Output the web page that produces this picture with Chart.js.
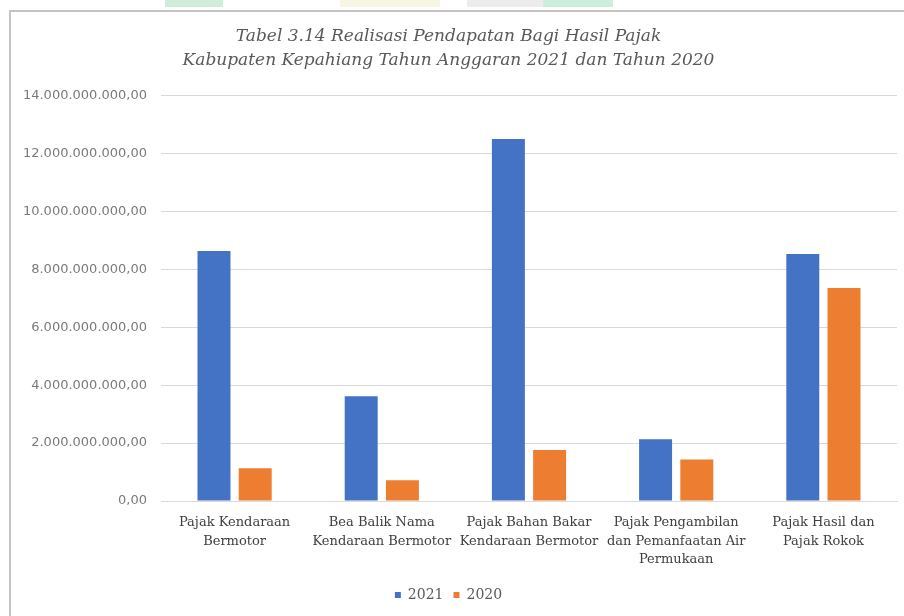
<!DOCTYPE html>
<html>
<head>
<meta charset="utf-8">
<script src="https://cdn.jsdelivr.net/npm/chart.js@4"></script>
<style>
  body { margin: 0; background: #fff; }
  #wrap { position: relative; width: 904px; height: 616px; overflow: hidden; background: #fff; }
  #frame { position: absolute; left: 9px; top: 10px; width: 1000px; height: 700px; border-left: 2px solid #c4c4c4; border-top: 2px solid #c4c4c4; }
  .scan { position: absolute; top: 0; height: 7px; }
  canvas { position: absolute; left: 0; top: 0; }
</style>
</head>
<body>
<div id="wrap">
  <div class="scan" style="left:165px;width:58px;background:#d2ecdb"></div>
  <div class="scan" style="left:340px;width:100px;background:#f7f5e4"></div>
  <div class="scan" style="left:467px;width:76px;background:#ececec"></div>
  <div class="scan" style="left:543px;width:70px;background:#cdeedd"></div>
  <div id="frame"></div>
  <canvas id="pajakchart" width="904" height="616"></canvas>
</div>
<script>
// Categories (multi-line labels as in the original)
const categories = [
    ['Pajak Kendaraan', 'Bermotor'],
    ['Bea Balik Nama', 'Kendaraan Bermotor'],
    ['Pajak Bahan Bakar', 'Kendaraan Bermotor'],
    ['Pajak Pengambilan', 'dan Pemanfaatan Air', 'Permukaan'],
    ['Pajak Hasil dan', 'Pajak Rokok']
];

// Realisasi per year (rupiah)
const realisasi2021 = [8630000000, 3620000000, 12500000000, 2130000000, 8530000000];
const realisasi2020 = [1130000000, 720000000, 1760000000, 1430000000, 7360000000];

// Y axis ticks
const yMax = 14000000000;
const yStep = 2000000000;

function rupiah(v) {
    return Math.round(v).toString().replace(/\B(?=(\d{3})+(?!\d))/g, '.') + ',00';
}

const chartData = {
    labels: categories,
    datasets: [{
        label: '2021',
        data: realisasi2021,
        backgroundColor: '#4472C4',
        barPercentage: 0.8,
        categoryPercentage: 0.56
    }, {
        label: '2020',
        data: realisasi2020,
        backgroundColor: '#ED7D31',
        barPercentage: 0.8,
        categoryPercentage: 0.56
    }]
};

const chartOptions = {
    responsive: false,
    animation: false,
    layout: { padding: { left: 0, right: 7, top: 0, bottom: 4 } },
    scales: {
        x: {
            grid: { display: false, drawTicks: false },
            border: { color: '#d9d9d9' },
            ticks: {
                color: '#404040',
                padding: 13,
                maxRotation: 0,
                autoSkip: false,
                font: { family: 'DejaVu Serif', size: 13, lineHeight: 1.4 }
            },
            afterFit: function (scale) { scale.height = 77; }
        },
        y: {
            min: 0,
            max: yMax,
            grid: { color: '#d9d9d9', drawTicks: false },
            border: { display: false },
            ticks: {
                stepSize: yStep,
                padding: 14,
                color: '#7a7a7a',
                font: { family: 'DejaVu Sans', size: 13 },
                callback: function (v) { return rupiah(v); }
            },
            afterFit: function (scale) { scale.width = 161; }
        }
    },
    plugins: {
        title: {
            display: true,
            text: ['Tabel 3.14 Realisasi Pendapatan Bagi Hasil Pajak',
                   'Kabupaten Kepahiang Tahun Anggaran 2021 dan Tahun 2020'],
            color: '#595959',
            font: { family: 'DejaVu Serif', size: 17, style: 'italic', weight: 'normal', lineHeight: 1.4 },
            padding: { top: 25, bottom: 23 }
        },
        legend: {
            position: 'bottom',
            labels: {
                color: '#595959',
                boxWidth: 6,
                boxHeight: 6,
                padding: 10,
                font: { family: 'DejaVu Serif', size: 14 }
            }
        },
        tooltip: { enabled: false }
    }
};

function createChart(chartId, data, options) {
    const el = document.getElementById(chartId);
    if (!el) {
        console.error(`Element with id ${chartId} not found.`);
        return null;
    }
    return new Chart(el, { type: 'bar', data: data, options: options });
}

createChart('pajakchart', chartData, chartOptions);
</script>
</body>
</html>
